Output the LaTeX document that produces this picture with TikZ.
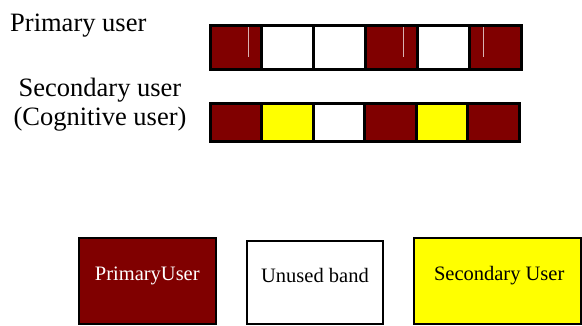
\documentclass[tikz,border=0pt]{standalone}
\usepackage{fontspec}
\setmainfont{Liberation Serif}
\definecolor{pured}{HTML}{800000}
\definecolor{suyel}{HTML}{FFFF00}
\tikzset{
  cell/.style={draw=black, line width=3pt},
  pu/.style={cell, fill=pured},
  un/.style={cell, fill=white},
  su/.style={cell, fill=suyel},
  legbox/.style={draw=black, line width=2pt},
  lbl/.style={font=\fontsize{26.5}{28.5}\selectfont, inner sep=0pt},
  legtxt/.style={font=\fontsize{20.5}{24}\selectfont, inner sep=0pt},
  streak/.style={draw=white!70!pured, line width=0.8pt}
}
\begin{document}
\begin{tikzpicture}[x=1pt,y=-1pt]
\useasboundingbox (0,0) rectangle (582,325);
% labels
\node[lbl, anchor=base west] (lp) at (10,31) {Primary user};
\node[lbl, anchor=base, align=center] (ls) at (100,125) {Secondary user\\(Cognitive user)};
% top row
\foreach \i/\s in {0/pu,1/un,2/un,3/pu,4/un,5/pu}{
  \draw[\s] ({210+\i*51.9},25) rectangle ({210+(\i+1)*51.9},69);
}
\draw[streak] (248,27) -- (248,57);
\draw[streak] (403.3,27) -- (403.3,57);
\draw[streak] (483.3,27) -- (483.3,57);
% second row
\foreach \i/\s in {0/pu,1/su,2/un,3/pu,4/su,5/pu}{
  \draw[\s] ({210+\i*51.5},103.5) rectangle ({210+(\i+1)*51.5},141.7);
}
% legend
\draw[legbox, fill=pured] (79,238.3) rectangle (215.7,324);
\draw[legbox, fill=white] (246.7,241) rectangle (383.3,324);
\draw[legbox, fill=suyel] (414.3,238.3) rectangle (581,324);
\node[legtxt, text=white, anchor=base] (t1) at (147.3,280.7) {PrimaryUser};
\node[legtxt, anchor=base] (t2) at (315,282.7) {Unused band};
\node[legtxt, anchor=base] (t3) at (499.2,280) {Secondary User};
\end{tikzpicture}
\end{document}
